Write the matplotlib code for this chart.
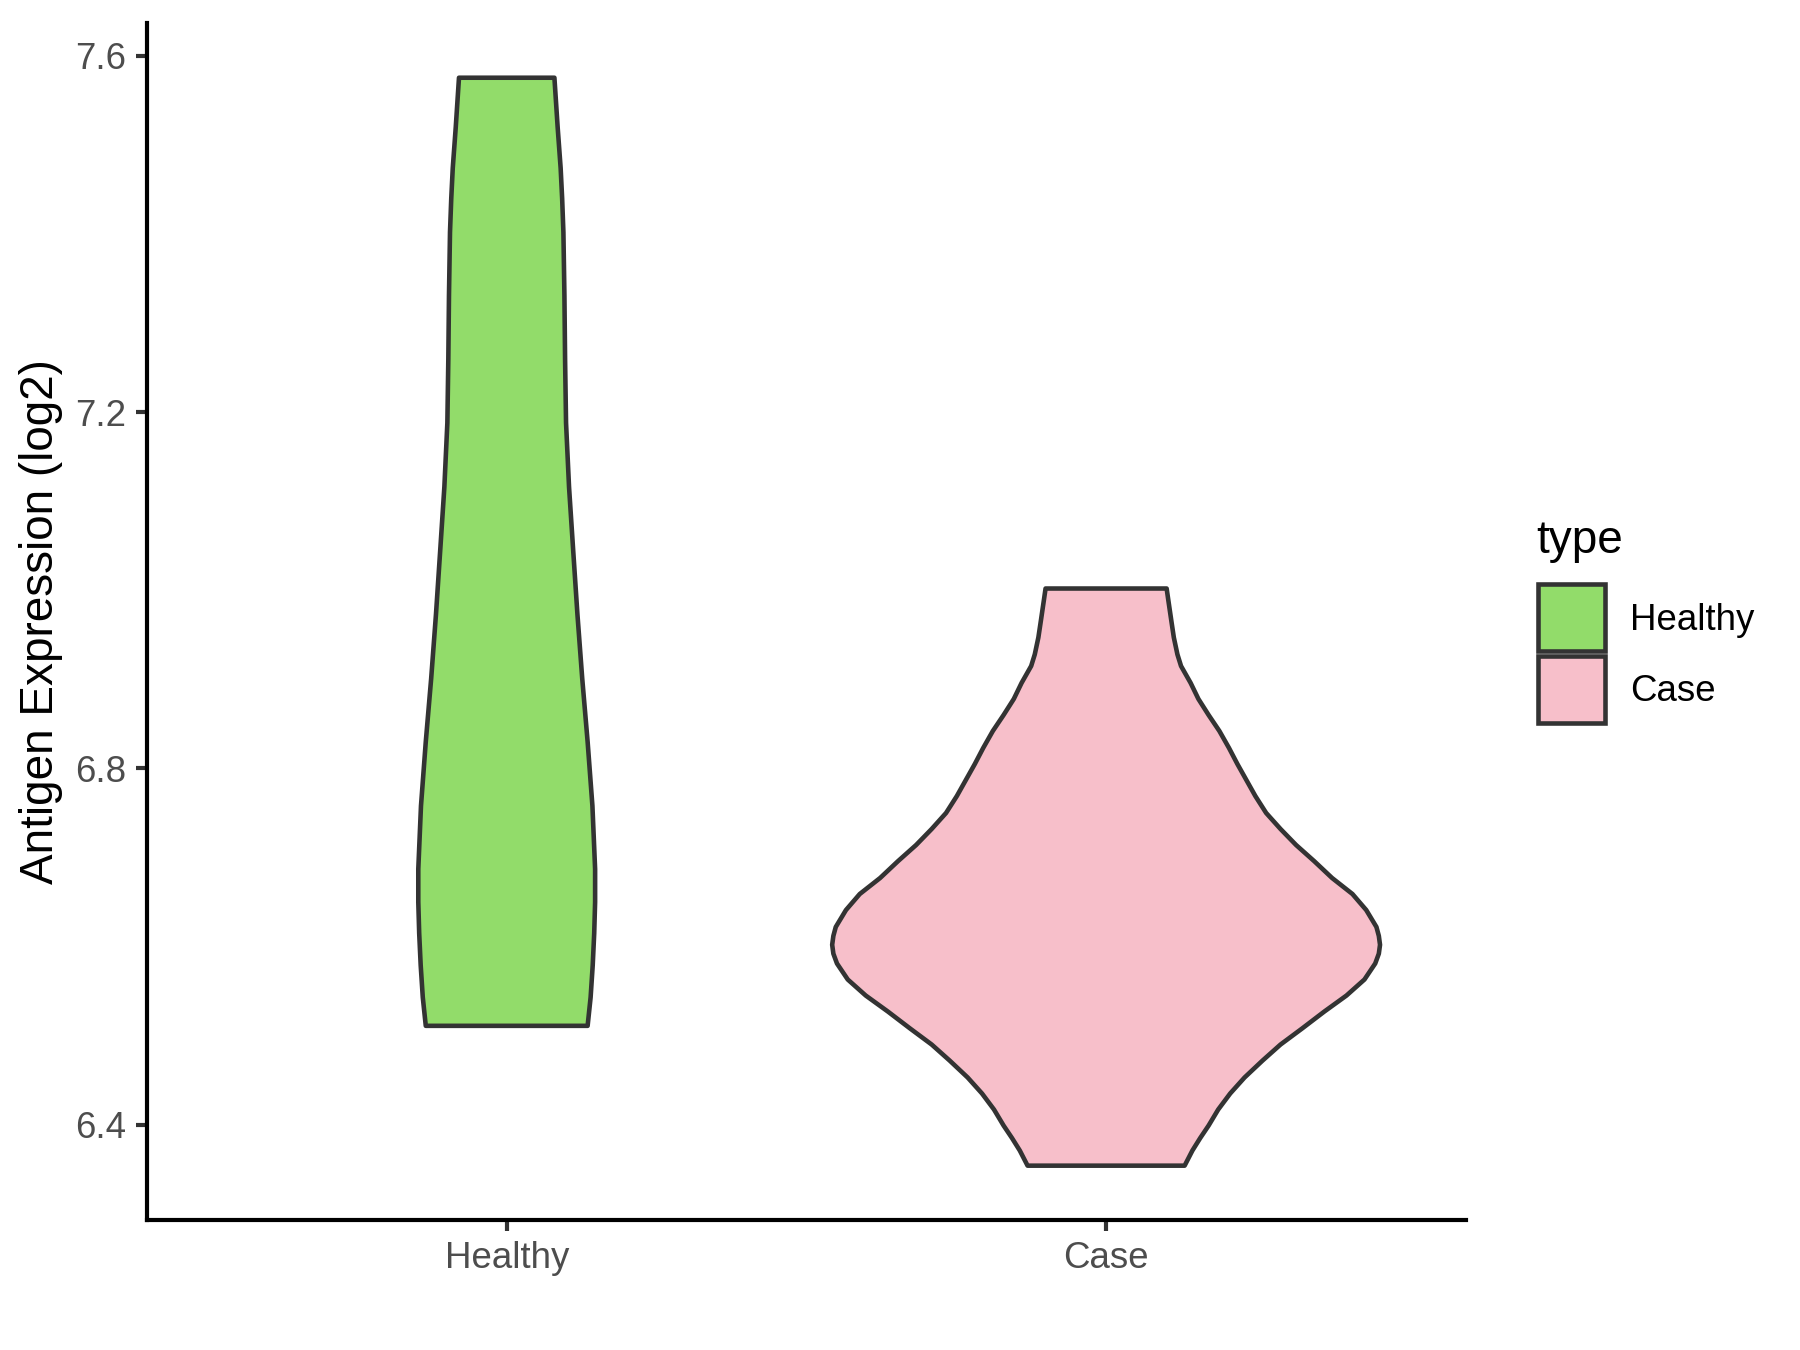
import numpy as np
import matplotlib as mat
mat.use('Agg')
import matplotlib.pyplot as plt
from matplotlib.patches import Rectangle

plt.rcParams['font.family'] = ['Liberation Sans', 'DejaVu Sans']

groups = ['Healthy', 'Case']
colors = ['#92DC6A', '#F7BFCA']

# violin outlines: expression value -> half width (x units)
healthy_y = [7.5755, 7.52, 7.474, 7.44, 7.402, 7.331, 7.259, 7.188, 7.116, 7.044,
             6.973, 6.901, 6.830, 6.758, 6.687, 6.650, 6.615, 6.579, 6.543, 6.511]
healthy_hw = [0.0796, 0.085, 0.090, 0.0925, 0.0946, 0.0963, 0.0974, 0.099, 0.104,
              0.111, 0.118, 0.126, 0.135, 0.143, 0.1475, 0.1475, 0.146, 0.1435,
              0.140, 0.135]

case_y = [7.002, 6.988, 6.965, 6.947, 6.928, 6.915, 6.896, 6.878, 6.860, 6.842,
          6.823, 6.805, 6.787, 6.769, 6.750, 6.732, 6.714, 6.696, 6.677, 6.659,
          6.641, 6.622, 6.612, 6.602, 6.592, 6.581, 6.563, 6.545, 6.527, 6.508,
          6.490, 6.472, 6.453, 6.435, 6.417, 6.399, 6.385, 6.371, 6.354]
case_hw = [0.101, 0.104, 0.109, 0.113, 0.119, 0.125, 0.141, 0.154, 0.171, 0.189,
           0.205, 0.219, 0.234, 0.249, 0.267, 0.291, 0.317, 0.347, 0.377, 0.411,
           0.434, 0.451, 0.455, 0.457, 0.455, 0.449, 0.431, 0.401, 0.364, 0.327,
           0.291, 0.261, 0.231, 0.207, 0.187, 0.171, 0.157, 0.144, 0.131]

yticks = [6.4, 6.8, 7.2, 7.6]

fig = plt.figure(figsize=(6, 4.5), dpi=300)
ax = fig.add_axes([0.0817, 0.0963, 0.8143 - 0.0817, 0.983 - 0.0963])

outline = '#333333'
for i, (ys, hw) in enumerate([(healthy_y, healthy_hw), (case_y, case_hw)]):
    pos = i + 1
    ys = np.array(ys)
    hw = np.array(hw)
    xs = np.concatenate([pos - hw, (pos + hw)[::-1]])
    yy = np.concatenate([ys, ys[::-1]])
    ax.fill(xs, yy, facecolor=colors[i], edgecolor=outline, linewidth=1.1,
            joinstyle='round')

ax.set_xlim(0.4, 2.6)
ax.set_ylim(6.293, 7.637)
ax.set_xticks([1, 2])
ax.set_xticklabels(groups)
ax.set_yticks(yticks)
ax.set_yticklabels(['%.1f' % t for t in yticks])

for s in ['top', 'right']:
    ax.spines[s].set_visible(False)
for s in ['left', 'bottom']:
    ax.spines[s].set_linewidth(1.0)
    ax.spines[s].set_color('black')
ax.tick_params(length=2.75, width=1.0, color='#333333', labelcolor='#4D4D4D',
               labelsize=8.8, pad=2.2)

fig.text(0.023, 0.5396, 'Antigen Expression (log2)', rotation=90,
         ha='center', va='center', fontsize=11, color='black')

# legend
fig.text(0.8533, 0.599, 'type', ha='left', va='center', fontsize=11)
key_y = [0.5178, 0.4644]
text_y = [0.5407, 0.488]
for i in range(2):
    fig.add_artist(Rectangle((0.8544, key_y[i]), 0.0372, 0.0496,
                             transform=fig.transFigure, facecolor=colors[i],
                             edgecolor=outline, linewidth=1.1))
    fig.text(0.9056, text_y[i], groups[i], ha='left', va='center', fontsize=8.8)

fig.savefig('out.png', dpi=300)
